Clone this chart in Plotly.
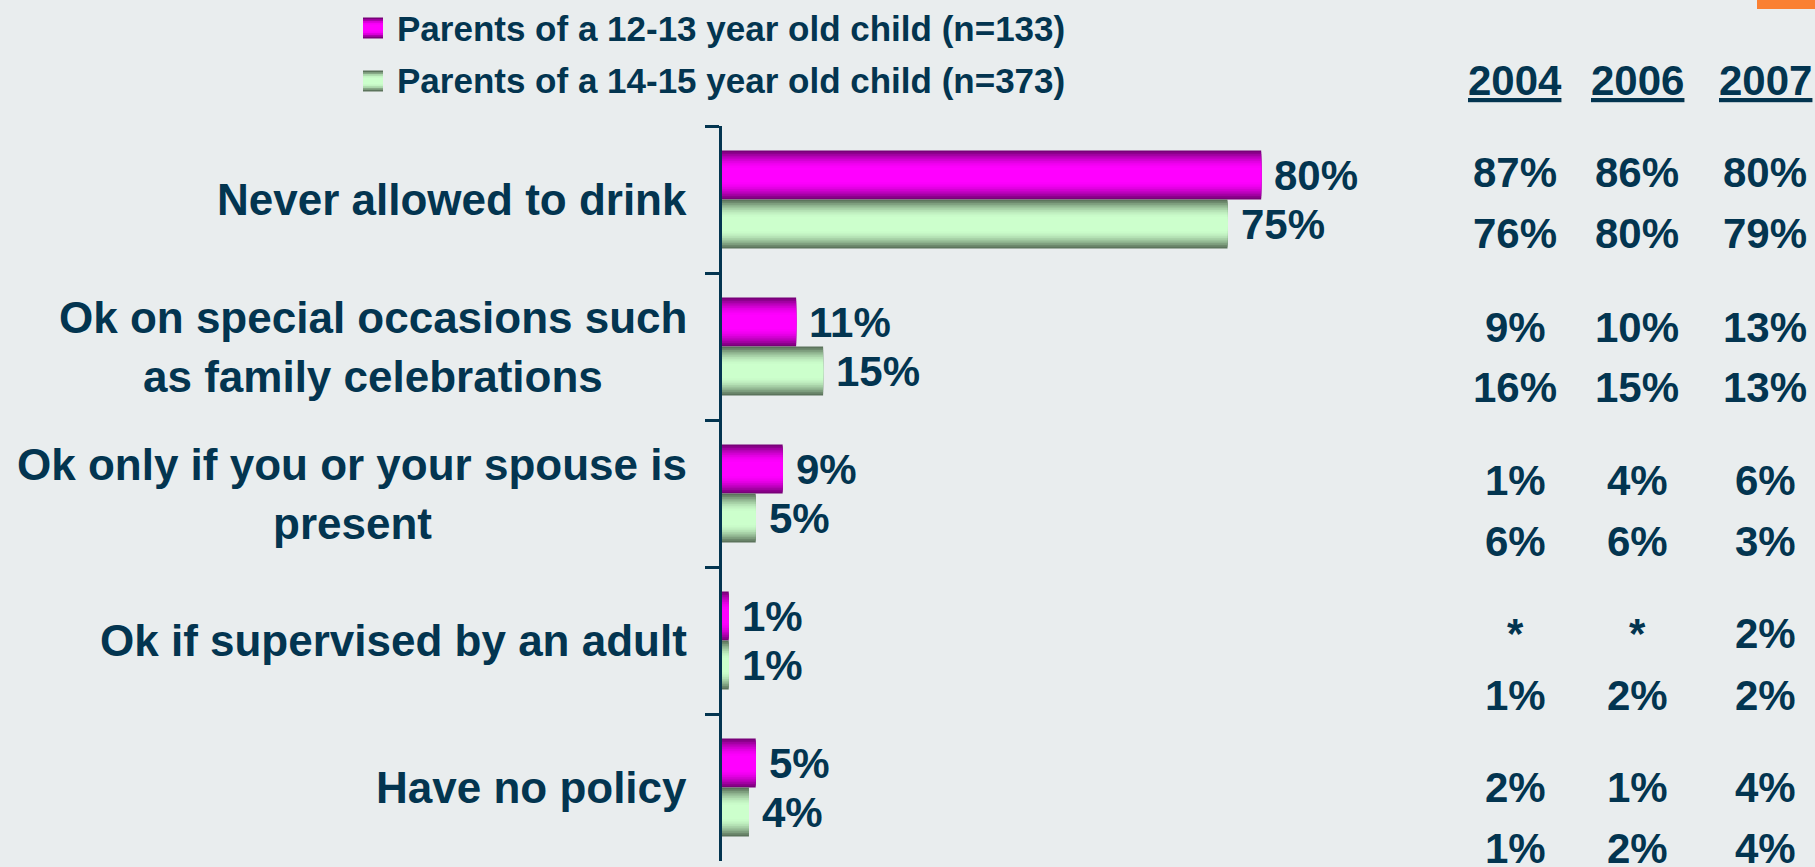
import math
import plotly.graph_objects as go

# ---------------- data ----------------
categories = [
    "Never allowed to drink",
    "Ok on special occasions such<br>as family celebrations",
    "Ok only if you or your spouse is<br>present",
    "Ok if supervised by an adult",
    "Have no policy",
]
series_names = [
    "Parents of a 12-13 year old child (n=133)",
    "Parents of a 14-15 year old child (n=373)",
]
values_12_13 = [80, 11, 9, 1, 5]
values_14_15 = [75, 15, 5, 1, 4]

years = ["2004", "2006", "2007"]
trend_12_13_2004 = ["87%", "9%", "1%", "*", "2%"]
trend_12_13_2006 = ["86%", "10%", "4%", "*", "1%"]
trend_12_13_2007 = ["80%", "13%", "6%", "2%", "4%"]
trend_14_15_2004 = ["76%", "16%", "6%", "1%", "1%"]
trend_14_15_2006 = ["80%", "15%", "6%", "2%", "2%"]
trend_14_15_2007 = ["79%", "13%", "3%", "2%", "4%"]

# ---------------- styling / layout ----------------
W, H = 1815, 867
ML, MR, MT, MB = 722, 419, 126, 6
PW = W - ML - MR
PH = H - MT - MB
PLOT_BOTTOM = H - MB

BG = "#E9EDEE"
NAVY = "#033550"
FONT = "Liberation Sans, Arial, sans-serif"


def px_x(px):
    return (px - ML) / PW


def px_y(py):
    return (PLOT_BOTTOM - py) / PH


def hex2rgb(h):
    h = h.lstrip("#")
    return tuple(int(h[i:i + 2], 16) for i in (0, 2, 4))


def mix(c1, c2, s):
    a, b = hex2rgb(c1), hex2rgb(c2)
    return "rgb(%d,%d,%d)" % tuple(round(a[i] + (b[i] - a[i]) * s) for i in range(3))


def profile(k, n):
    t = k / (n - 1)
    return math.sin(math.pi / 2 * min(1.0, t / 0.8))


BAR_H = 1 / 3.0
N_LAYERS = 14
series_styles = [
    dict(vals=values_12_13, dark="#790079", bright="#FF00FF", center=-BAR_H / 2),
    dict(vals=values_14_15, dark="#5C745C", bright="#CCFFCC", center=BAR_H / 2),
]

fig = go.Figure()
# each bar is drawn as nested layers to imitate the vertical "cylinder" gradient
for si, st in enumerate(series_styles):
    for k in range(N_LAYERS):
        w = BAR_H * (1 - k / N_LAYERS)
        fig.add_trace(go.Bar(
            x=st["vals"], y=categories, orientation="h",
            width=[w] * len(categories), offset=st["center"] - w / 2,
            marker=dict(color=mix(st["dark"], st["bright"], profile(k, N_LAYERS)), line=dict(width=0)),
            name=series_names[si], showlegend=False, hoverinfo="skip",
        ))

annotations = []

# bar value labels
for vals, shift in ((values_12_13, 24.5), (values_14_15, -24.5)):
    for c, v in zip(categories, vals):
        annotations.append(dict(
            x=v, y=c, xref="x", yref="y", text="<b>%d%%</b>" % v, showarrow=False,
            xanchor="left", yanchor="middle", xshift=11, yshift=shift,
            font=dict(family=FONT, size=42, color=NAVY)))

# category labels
LINE_GAP = 59
for ci, c in enumerate(categories):
    lines = c.split("<br>")
    if len(lines) == 1:
        annotations.append(dict(
            x=0, y=c, xref="paper", yref="y", text="<b>%s</b>" % c, showarrow=False,
            xanchor="right", yanchor="middle", xshift=-33,
            font=dict(family=FONT, size=44, color=NAVY)))
    else:
        for li, ln in enumerate(lines):
            annotations.append(dict(
                x=0, y=c, xref="paper", yref="y", text="<b>%s</b>" % ln, showarrow=False,
                xanchor="right", yanchor="middle", xshift=-33,
                yshift=(LINE_GAP / 2) * (1 if li == 0 else -1),
                font=dict(family=FONT, size=44, color=NAVY), name="cat%d_%d" % (ci, li)))

# trend table
col_x = [1515, 1637, 1765]
row1_y = [172, 327, 480, 633, 787]
row2_y = [233, 387, 541, 695, 848]
cols_12 = [trend_12_13_2004, trend_12_13_2006, trend_12_13_2007]
cols_14 = [trend_14_15_2004, trend_14_15_2006, trend_14_15_2007]
for ci, yr in enumerate(years):
    annotations.append(dict(
        x=px_x(col_x[ci]), y=px_y(80), xref="paper", yref="paper",
        text="<b><u>%s</u></b>" % yr, showarrow=False, xanchor="center", yanchor="middle",
        font=dict(family=FONT, size=42, color=NAVY)))
    for ri in range(len(categories)):
        for col, ys in ((cols_12, row1_y), (cols_14, row2_y)):
            annotations.append(dict(
                x=px_x(col_x[ci]), y=px_y(ys[ri]), xref="paper", yref="paper",
                text="<b>%s</b>" % col[ci][ri], showarrow=False, xanchor="center", yanchor="middle",
                font=dict(family=FONT, size=42, color=NAVY)))

# manual legend (larger swatches than Plotly's built-in legend)
shapes = []
legend_rows = [28, 81]
for si, st in enumerate(series_styles):
    cy = legend_rows[si]
    n = 6
    for k in range(n):
        hh = 10.5 * (1 - k / n)
        shapes.append(dict(
            type="rect", xref="paper", yref="paper",
            x0=px_x(363), x1=px_x(383), y0=px_y(cy + hh), y1=px_y(cy - hh),
            fillcolor=mix(st["dark"], st["bright"], profile(k, n)), line=dict(width=0)))
    annotations.append(dict(
        x=px_x(395), y=px_y(cy), xref="paper", yref="paper",
        text="<b>%s</b>" % series_names[si], showarrow=False, xanchor="left", yanchor="middle",
        font=dict(family=FONT, size=35, color=NAVY)))

# orange decoration top-right
shapes.append(dict(type="rect", xref="paper", yref="paper",
                   x0=px_x(1757), x1=px_x(1815), y0=px_y(9), y1=px_y(0),
                   fillcolor="#FA8032", line=dict(width=0)))

fig.update_layout(
    width=W, height=H,
    margin=dict(l=ML, r=MR, t=MT, b=MB, pad=0),
    paper_bgcolor=BG, plot_bgcolor=BG,
    barmode="overlay",
    showlegend=False,
    font=dict(family=FONT, color=NAVY),
    xaxis=dict(range=[0, 100], visible=False, fixedrange=True),
    yaxis=dict(
        type="category", categoryorder="array", categoryarray=categories,
        range=[4.5, -0.5], showticklabels=False, showgrid=False, zeroline=False,
        showline=True, linecolor=NAVY, linewidth=2.5, fixedrange=True,
        ticks="outside", tickson="boundaries", ticklen=14, tickwidth=2.5, tickcolor=NAVY,
    ),
    annotations=annotations,
    shapes=shapes,
)

# remove page margin; centre the second line of two-line labels under the first
post = """
document.body.style.margin='0';
document.body.style.padding='0';
var gd = document.getElementsByClassName('plotly-graph-div')[0];
var anns = gd.layout.annotations, upd = {};
var els = gd.querySelectorAll('.annotation-text-g');
for (var i = 0; i < anns.length; i++) {
  var nm = anns[i].name || '';
  if (nm.indexOf('cat') === 0 && nm.slice(-2) === '_1') {
    var first = nm.slice(0, -2) + '_0', j;
    for (j = 0; j < anns.length; j++) if (anns[j].name === first) break;
    var w0 = els[j].getBBox().width, w1 = els[i].getBBox().width;
    upd['annotations[' + i + '].xshift'] = -33 - (w0 - w1) / 2;
  }
}
Plotly.relayout(gd, upd);
"""

fig.write_html("out.html", post_script=post, config={"displayModeBar": False})
